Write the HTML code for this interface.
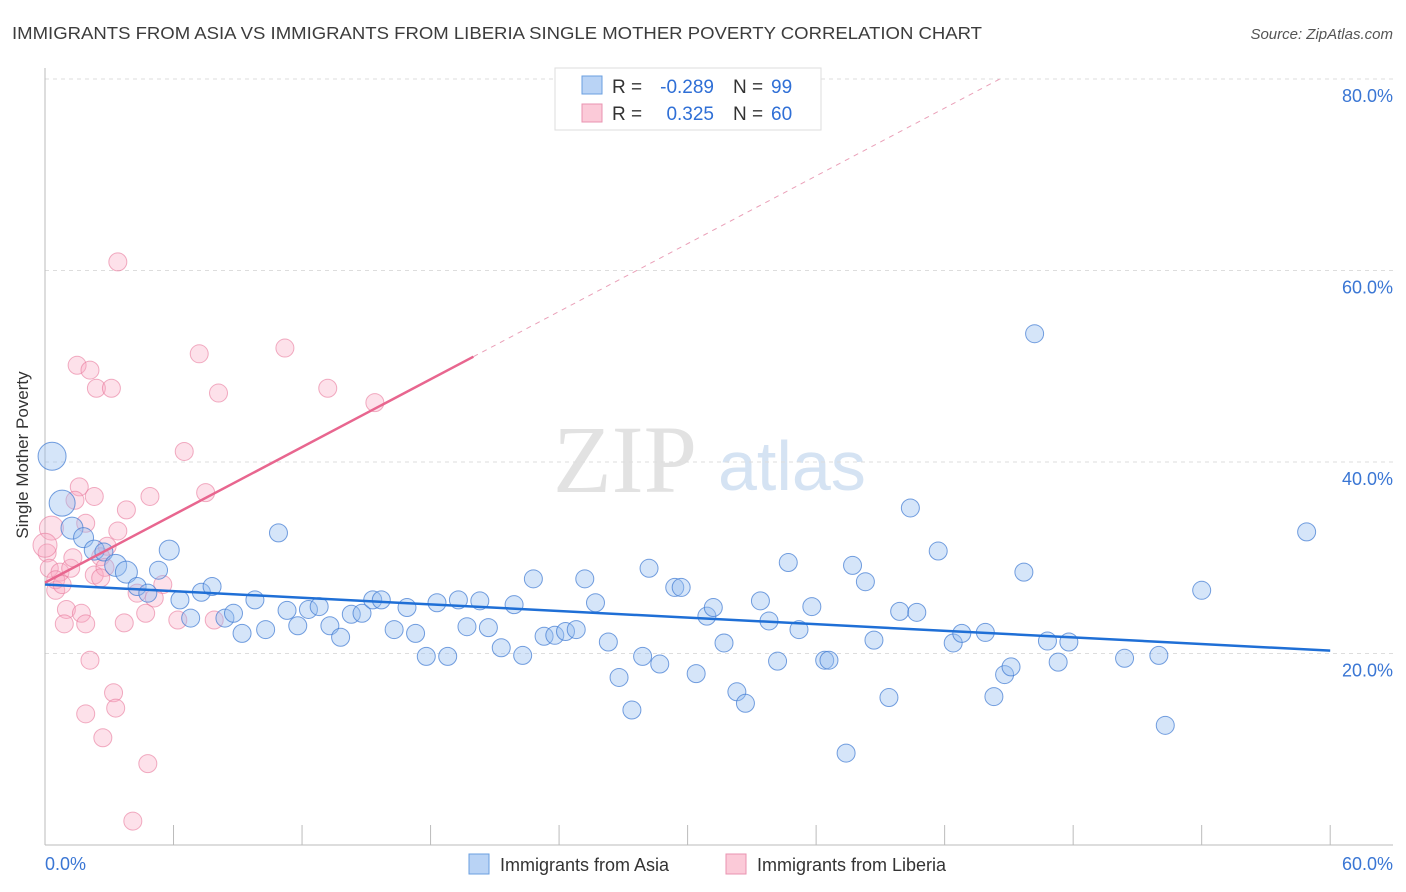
<!DOCTYPE html>
<html><head><meta charset="utf-8"><style>
body{margin:0;background:#fff;font-family:"Liberation Sans",sans-serif;}
svg{display:block}
</style></head><body>
<svg id="chart" width="1406" height="892">
<text x="12" y="39" font-size="17.5" fill="#3c3c3c" textLength="970" lengthAdjust="spacingAndGlyphs">IMMIGRANTS FROM ASIA VS IMMIGRANTS FROM LIBERIA SINGLE MOTHER POVERTY CORRELATION CHART</text>
<text x="1393" y="39" font-size="15" fill="#555" font-style="italic" text-anchor="end">Source: ZipAtlas.com</text>
<g>
<text x="553" y="492" font-family="Liberation Serif,serif" font-size="96" fill="#e2e2e2">ZIP</text>
<text x="718" y="490" font-size="70" fill="#d5e3f3">atlas</text>
</g>
<g id="grid"></g>
<g id="axes"></g>
<g id="pts"></g>
<g id="lines"></g>
<text x="28" y="455" font-size="17" fill="#333" text-anchor="middle" transform="rotate(-90 28 455)">Single Mother Poverty</text>
<g>
<rect x="555" y="68" width="266" height="62" fill="#fff" stroke="#ddd"/>
<rect x="582" y="76" width="20" height="18" fill="#b9d3f5" stroke="#6a9fe0"/>
<rect x="582" y="104" width="20" height="18" fill="#fbcad8" stroke="#e993b0"/>
<text x="612" y="93" font-size="19" fill="#333">R =</text>
<text x="714" y="93" font-size="19" fill="#2f6fd6" text-anchor="end">-0.289</text>
<text x="733" y="93" font-size="19" fill="#333">N =</text>
<text x="771" y="93" font-size="19" fill="#2f6fd6">99</text>
<text x="612" y="120" font-size="19" fill="#333">R =</text>
<text x="714" y="120" font-size="19" fill="#2f6fd6" text-anchor="end">0.325</text>
<text x="733" y="120" font-size="19" fill="#333">N =</text>
<text x="771" y="120" font-size="19" fill="#2f6fd6">60</text>
</g>
<g>
<rect x="469" y="854" width="20" height="20" fill="#b9d3f5" stroke="#6a9fe0"/>
<text x="500" y="871" font-size="18" fill="#333">Immigrants from Asia</text>
<rect x="726" y="854" width="20" height="20" fill="#fbcad8" stroke="#e993b0"/>
<text x="757" y="871" font-size="18" fill="#333">Immigrants from Liberia</text>
</g>
</svg>
<script>
const asiaX=[0.33,0.8,1.26,1.8,2.3,2.75,3.3,3.8,4.3,4.8,5.3,5.8,6.3,6.8,7.3,7.8,8.4,8.8,9.2,9.8,10.3,10.9,11.3,11.8,12.3,12.8,13.3,13.8,14.3,14.8,15.3,15.7,16.3,16.9,17.3,17.8,18.3,18.8,19.3,19.7,20.3,20.7,21.3,21.9,22.3,22.8,23.3,23.8,24.3,24.8,25.2,25.7,26.3,26.8,27.4,27.9,28.2,28.7,29.4,29.7,30.4,30.9,31.2,31.7,32.3,32.7,33.4,33.8,34.2,34.7,35.2,35.8,36.4,36.6,37.4,37.7,38.3,38.7,39.4,39.9,40.4,40.7,41.7,42.4,42.8,43.9,44.3,44.8,45.1,45.7,46.2,46.8,47.3,47.8,50.4,52.0,52.3,54.0,58.9];
const asiaY=[40.6,35.7,33.1,32.1,30.8,30.6,29.2,28.5,27.0,26.3,28.7,30.8,25.6,23.7,26.4,27.0,23.7,24.2,22.1,25.6,22.5,32.6,24.5,22.9,24.6,24.9,22.9,21.7,24.1,24.2,25.6,25.6,22.5,24.8,22.1,19.7,25.3,19.7,25.6,22.8,25.5,22.7,20.6,25.1,19.8,27.8,21.8,21.9,22.3,22.5,27.8,25.3,21.2,17.5,14.1,19.7,28.9,18.9,26.9,26.9,17.9,23.9,24.8,21.1,16.0,14.8,25.5,23.4,19.2,29.5,22.5,24.9,19.3,19.3,9.6,29.2,27.5,21.4,15.4,24.4,35.2,24.3,30.7,21.1,22.1,22.2,15.5,17.8,18.6,28.5,53.4,21.3,19.1,21.2,19.5,19.8,12.5,26.6,32.7];
const asiaSize=[14,13,11,10,10,9,11,11,9,9,9,10];
const libX=[3.4,7.2,11.2,1.5,2.1,2.4,3.1,8.1,13.2,15.4,6.5,1.6,1.4,2.3,4.9,7.5,3.8,0.3,1.9,3.4,0.1,2.9,2.6,0.2,0.7,1.2,0.5,2.3,2.8,5.5,4.3,5.1,1.0,2.6,4.7,1.7,0.9,1.9,3.7,6.2,7.9,2.1,3.2,3.3,1.9,2.7,4.8,4.1,0.5,0.8,0.0,1.3];
const libY=[60.9,51.3,51.9,50.1,49.6,47.7,47.7,47.2,47.7,46.2,41.1,37.4,36.0,36.4,36.4,36.8,35.0,33.1,33.6,32.8,30.5,31.2,30.1,28.9,28.5,28.9,26.6,28.2,29.0,27.2,26.3,25.8,24.6,27.9,24.2,24.2,23.1,23.1,23.2,23.5,23.5,19.3,15.9,14.3,13.7,11.2,8.5,2.5,27.7,27.2,31.3,30.0];
const yTicks=[20,40,60,80];
const yTickLabels=["20.0%","40.0%","60.0%","80.0%"];
const xTicks=[0,6,12,18,24,30,36,42,48,54,60];
const asiaLine=[27.2,20.3];
const libLine=[27.4,1.18];
const libSolidEnd=20;
const xs=v=>45+v*21.42, ys=v=>845-v*9.575;
const NS="http://www.w3.org/2000/svg";
function mk(parent,tag,attrs){const e=document.createElementNS(NS,tag);for(const k in attrs)e.setAttribute(k,attrs[k]);document.getElementById(parent).appendChild(e);return e;}
yTicks.forEach((t,i)=>{
 const g=mk('grid','line',{x1:45,x2:1393,y1:ys(t),y2:ys(t),stroke:'#ddd','stroke-dasharray':'4,4'});
 
 
 const l=mk('axes','text',{x:1393,y:ys(t)+23,'font-size':18,fill:'#3a76d4','text-anchor':'end'});
 l.textContent=yTickLabels[i];
 
 
});
const ax=mk('axes','line',{x1:45,x2:45,y1:68,y2:845,stroke:'#bbb'});


const bx=mk('axes','line',{x1:45,x2:1393,y1:845,y2:845,stroke:'#bbb'});


xTicks.forEach(t=>{
 const k=mk('axes','line',{x1:xs(t),x2:xs(t),y1:825,y2:845,stroke:'#bbb'});
 
 
});
const x0=mk('axes','text',{x:45,y:870,'font-size':18,fill:'#3a76d4'});x0.textContent='0.0%';


const x1=mk('axes','text',{x:1393,y:870,'font-size':18,fill:'#3a76d4','text-anchor':'end'});x1.textContent='60.0%';


libX.forEach((v,i)=>{
 const c=mk('pts','circle',{cx:xs(v),cy:ys(libY[i]),r:(i==17||i==50)?12:9,fill:'rgba(248,170,195,0.35)',stroke:'rgba(232,120,155,0.6)'});
 
 
});
asiaX.forEach((v,i)=>{
 const c=mk('pts','circle',{cx:xs(v),cy:ys(asiaY[i]),r:asiaSize[i]||9,fill:'rgba(150,190,240,0.4)',stroke:'rgba(60,120,210,0.7)'});
 
 
});
const bl=mk('lines','line',{x1:xs(0),y1:ys(asiaLine[0]),x2:xs(60),y2:ys(asiaLine[1]),stroke:'#1f6fd6','stroke-width':2.5});


const xEnd=(80-libLine[0])/libLine[1];
const pd=mk('lines','line',{x1:xs(libSolidEnd),y1:ys(libLine[0]+libLine[1]*libSolidEnd),x2:xs(xEnd),y2:ys(80),stroke:'#eaa0b8','stroke-width':1,'stroke-dasharray':'5,5'});


const pl=mk('lines','line',{x1:xs(0),y1:ys(libLine[0]),x2:xs(libSolidEnd),y2:ys(libLine[0]+libLine[1]*libSolidEnd),stroke:'#e8668f','stroke-width':2.5});


</script>
</body></html>
